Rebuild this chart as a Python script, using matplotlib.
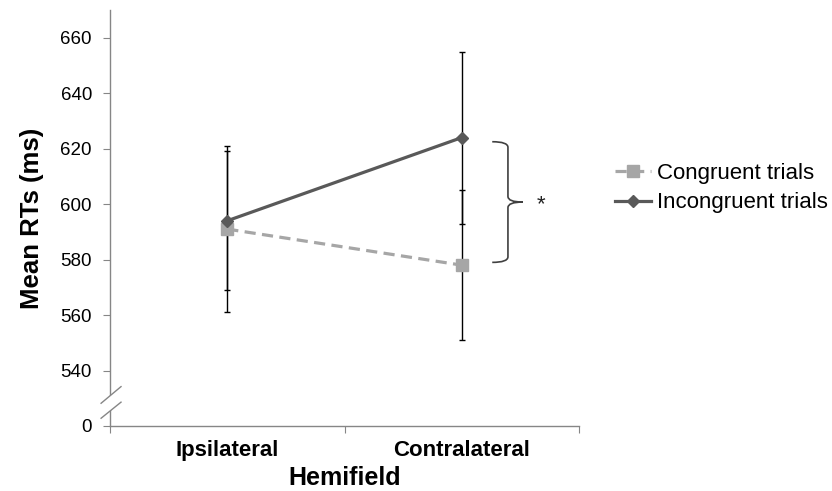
import matplotlib
matplotlib.use('Agg')
import matplotlib.pyplot as plt
from matplotlib.path import Path
from matplotlib.patches import PathPatch, Polygon
from matplotlib.transforms import blended_transform_factory

plt.rcParams['font.family'] = ['Liberation Sans', 'DejaVu Sans']

hemifields = ['Ipsilateral', 'Contralateral']
congruent = [591, 578]
congruent_err = [30, 27]
incongruent = [594, 624]
incongruent_err = [25, 31]
y_ticks = [520, 540, 560, 580, 600, 620, 640, 660]
y_labels = ['0', '540', '560', '580', '600', '620', '640', '660']

fig = plt.figure(figsize=(8.32, 4.91), dpi=100)
ax = fig.add_axes([110 / 832, 1 - 426 / 491, 469 / 832, 416 / 491])

x = [0.5, 1.5]
axis_grey = '#868686'

ax.errorbar(x, congruent, yerr=congruent_err, fmt='none', ecolor='black',
            elinewidth=1.0, capsize=2.5, capthick=1.0, zorder=2)
ax.errorbar(x, incongruent, yerr=incongruent_err, fmt='none', ecolor='black',
            elinewidth=1.0, capsize=2.5, capthick=1.0, zorder=2)
ax.plot(x, congruent, color='#a6a6a6', lw=2.3, ls=(0, (3.5, 2.0)), marker='s',
        ms=8, mec='#a6a6a6', mfc='#a6a6a6', label='Congruent trials', zorder=3)
ax.plot(x, incongruent, color='#595959', lw=2.3, marker='D', ms=6.5,
        mec='#595959', mfc='#595959', label='Incongruent trials', zorder=4)

ax.set_xlim(0, 2)
ax.set_ylim(520, 670)
ax.set_yticks(y_ticks, y_labels)
ax.set_xticks([0, 1, 2], ['', '', ''])
ax.set_xticks(x, hemifields, minor=True)
ax.tick_params(axis='x', which='minor', length=0, pad=10, labelsize=16)
ax.tick_params(axis='x', which='major', length=5, color=axis_grey, direction='out')
ax.tick_params(axis='y', length=5, color=axis_grey, pad=8, labelsize=13.5)
for lab in ax.get_xticklabels(minor=True):
    lab.set_fontweight('bold')

for side in ['top', 'right']:
    ax.spines[side].set_visible(False)
for side in ['left', 'bottom']:
    ax.spines[side].set_color(axis_grey)
    ax.spines[side].set_linewidth(1.0)

ax.set_ylabel('Mean RTs (ms)', fontsize=18.5, fontweight='bold', labelpad=12)
ax.set_xlabel('Hemifield', fontsize=18, fontweight='bold', labelpad=4)

# axis break on the y axis
tr = blended_transform_factory(ax.transAxes, ax.transData)
gap = Polygon([(-0.019, 522.8), (0.0235, 528.6), (0.0235, 534.2), (-0.019, 528.2)],
              closed=True, transform=tr, facecolor='white', edgecolor='none',
              clip_on=False, zorder=5)
ax.add_patch(gap)
for y0, y1 in [(528.2, 534.2), (522.8, 528.6)]:
    ax.plot([-0.019, 0.0235], [y0, y1], color=axis_grey, lw=1.0, transform=tr,
            clip_on=False, zorder=6)

# significance brace
top = incongruent[1] - 1.5
bottom = congruent[1] + 1
mid = (top + bottom) / 2
x0, x1, x2 = 1.63, 1.697, 1.76
r = 2.0
verts = [(x0, top), (x1, top), (x1, top - r),
         (x1, mid + r),
         (x1, mid), (x2, mid),
         (x2, mid), (x1, mid), (x1, mid - r),
         (x1, bottom + r),
         (x1, bottom), (x0, bottom)]
codes = [Path.MOVETO, Path.CURVE3, Path.CURVE3,
         Path.LINETO,
         Path.CURVE3, Path.CURVE3,
         Path.MOVETO, Path.CURVE3, Path.CURVE3,
         Path.LINETO,
         Path.CURVE3, Path.CURVE3]
ax.add_patch(PathPatch(Path(verts, codes), facecolor='none', edgecolor='#404040',
                       lw=1.2, clip_on=False))
ax.text(1.84, mid - 1, '*', fontsize=16, ha='center', va='center', color='#222222')

fig.legend(loc='center left', bbox_to_anchor=(615 / 832, 1 - 188 / 491),
           frameon=False, fontsize=16, handlelength=1.6, handletextpad=0.3,
           labelspacing=0.4, borderpad=0, borderaxespad=0)

fig.savefig('out.png', dpi=100)
